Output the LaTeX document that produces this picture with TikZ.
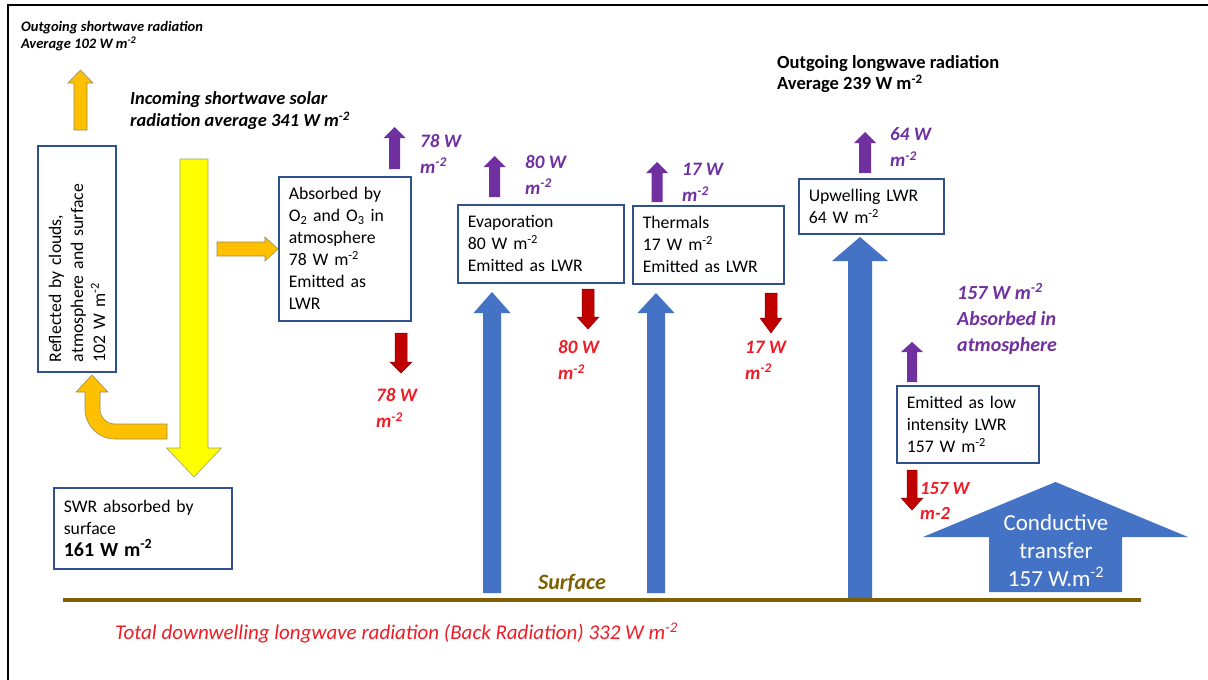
\documentclass[tikz,border=0pt]{standalone}
\usepackage{fontspec}
\setmainfont{Carlito}
\definecolor{boxblue}{HTML}{2F528F}
\definecolor{orng}{HTML}{FFC000}
\definecolor{orngdk}{HTML}{9C8A5A}
\definecolor{ylw}{HTML}{FFFF00}
\definecolor{ylwdk}{HTML}{A0A070}
\definecolor{purp}{HTML}{7030A0}
\definecolor{dred}{HTML}{C00000}
\definecolor{blu}{HTML}{4472C4}
\definecolor{olivec}{HTML}{7F6000}
\definecolor{tred}{HTML}{EE1C25}
\newcommand\boxfont{\fontsize{17.7}{22}\selectfont}
\newcommand\lblfont{\fontsize{19}{26}\selectfont\bfseries\itshape}
\newcommand\msup{m\textsuperscript{-2}}
% vertical block arrow: xc, tip y, tail y, shaft half, head-base y, head half, style
\newcommand\vblk[7]{\path[#7] (#1-#4,#3) -- (#1-#4,#5) -- (#1-#6,#5) -- (#1,#2) -- (#1+#6,#5) -- (#1+#4,#5) -- (#1+#4,#3) -- cycle;}
\begin{document}
\begin{tikzpicture}[x=1pt,y=-1pt,
  box/.style={draw=boxblue, line width=1.6pt, fill=white, align=left, inner xsep=10pt, inner ysep=2pt, anchor=north west, font=\boxfont},
  plbl/.style={anchor=west, align=left, inner sep=0pt, text=purp, font=\lblfont},
  rlbl/.style={anchor=west, align=left, inner sep=0pt, text=tred, font=\lblfont},
  orangeA/.style={fill=orng, draw=orngdk, line width=0.6pt},
  yellowA/.style={fill=ylw, draw=ylwdk, line width=0.6pt},
  purpA/.style={fill=purp},
  redA/.style={fill=dred, draw=dred!70!black, line width=0.5pt},
  blueA/.style={fill=blu}]
\useasboundingbox (0,0) rectangle (1208,680);
\fill[white] (0,0) rectangle (1208,680);
% frame
\draw[line width=2.2pt] (8,680) -- (8,5) -- (1208,5);

% top texts
\node[anchor=west, align=left, inner sep=0pt, font=\fontsize{14.5}{17}\selectfont\bfseries\itshape] (outsw) at (21,36.5) {Outgoing shortwave radiation\\Average 102 W \msup};
\node[anchor=west, align=left, inner sep=0pt, font=\fontsize{18.4}{22}\selectfont\bfseries\itshape] (insw) at (130,111) {Incoming shortwave solar\\radiation average 341 W \msup};
\node[anchor=west, align=left, inner sep=0pt, font=\fontsize{18.5}{21}\selectfont\bfseries] (outlw) at (777,74.5) {Outgoing longwave radiation\\Average 239 W \msup};

% boxes
\node[box, minimum width=226pt, minimum height=78pt, text width=206pt, rotate=90, anchor=center] (refl) at (77,259) {Reflected by clouds,\\atmosphere and surface\\102 W \msup};
\node[box, minimum width=132pt, minimum height=144pt, text width=112pt] (absorb) at (278,176) {Absorbed by\\O\textsubscript{2} and O\textsubscript{3} in\\atmosphere\\78 W \msup\\Emitted as\\LWR};
\node[box, minimum width=166pt, minimum height=78pt, text width=146pt] (evap) at (457,204) {Evaporation\\80 W \msup\\Emitted as LWR};
\node[box, minimum width=151pt, minimum height=78pt, text width=131pt] (therm) at (632,205) {Thermals\\17 W \msup\\Emitted as LWR};
\node[box, minimum width=145pt, minimum height=55pt, text width=125pt] (upw) at (798,178) {Upwelling LWR\\64 W \msup};
\node[box, minimum width=142pt, minimum height=77pt, text width=122pt] (emit) at (896,385) {Emitted as low\\intensity LWR\\157 W \msup};
\node[box, minimum width=178pt, minimum height=81pt, text width=158pt] (swr) at (53,487) {SWR absorbed by\\surface\\{\fontsize{20}{23}\selectfont\bfseries 161 W \msup}};

% orange / yellow arrows
\vblk{80.5}{70}{130}{6.5}{83}{12.5}{orangeA}
\vblk{194}{477}{159}{14}{448}{27.5}{yellowA}
\path[orangeA] (217,242) -- (265,242) -- (265,237) -- (278,249) -- (265,261) -- (265,256) -- (217,256) -- cycle;
\path[orangeA] (167,439) -- (115,439) .. controls (98.4,439) and (85,425.6) .. (85,409) -- (85,392) -- (76,392) -- (92,375) -- (108,392) -- (100,392) -- (100,409) .. controls (100,417.3) and (106.7,424) .. (115,424) -- (167,424) -- cycle;

% purple up arrows
\vblk{394.5}{127}{169}{5.5}{138}{11}{purpA}
\vblk{494.5}{156}{197}{5.5}{167}{11}{purpA}
\vblk{657}{162}{202}{5.5}{173}{11}{purpA}
\vblk{865}{132}{173}{6}{143}{11}{purpA}
\vblk{912}{342}{382}{5}{352}{11}{purpA}

% red down arrows
\vblk{401}{373}{333}{6}{362}{11}{redA}
\vblk{588}{329}{289}{6}{317}{11}{redA}
\vblk{771}{333}{293}{6}{318}{11}{redA}
\vblk{912}{510}{470}{5}{498}{11}{redA}

% blue arrows
\vblk{492}{292}{593}{9}{313}{18.5}{blueA}
\vblk{656}{293}{593}{9}{313}{18.5}{blueA}
\vblk{860}{237}{600}{12}{261}{28}{blueA}
\vblk{1055.5}{482}{592}{66.5}{537}{132.5}{blueA}

% labels
\node[plbl] (p78) at (420,153.5) {78 W\\\msup};
\node[plbl] (p80) at (525,174.5) {80 W\\\msup};
\node[plbl] (p17) at (682,182.5) {17 W\\\msup};
\node[plbl] (p64) at (890,147.5) {64 W\\\msup};
\node[plbl, font=\fontsize{20}{26}\selectfont\bfseries\itshape] (p157) at (957,319) {157 W \msup\\Absorbed in\\atmosphere};
\node[rlbl] (r78) at (376,408) {78 W\\\msup};
\node[rlbl] (r80) at (558,360) {80 W\\\msup};
\node[rlbl] (r17) at (745,360) {17 W\\\msup};
\node[rlbl, font=\fontsize{18.5}{25}\selectfont\bfseries\itshape] (r157) at (920,500.5) {157 W\\m-2};
\node[align=center, inner sep=0pt, text=white, font=\fontsize{23}{28}\selectfont] (cond) at (1056,551) {Conductive\\transfer\\157 W.\msup};

% surface
\draw[olivec, line width=4pt] (63,600) -- (1141,600);
\node[inner sep=0pt, text=olivec, font=\fontsize{22}{26}\selectfont\bfseries\itshape] (surf) at (572,583) {Surface};
\node[anchor=west, inner sep=0pt, text=tred, font=\fontsize{21}{25}\selectfont\itshape] (total) at (115,633) {Total downwelling longwave radiation (Back Radiation) 332 W \msup};
\end{tikzpicture}
\end{document}
